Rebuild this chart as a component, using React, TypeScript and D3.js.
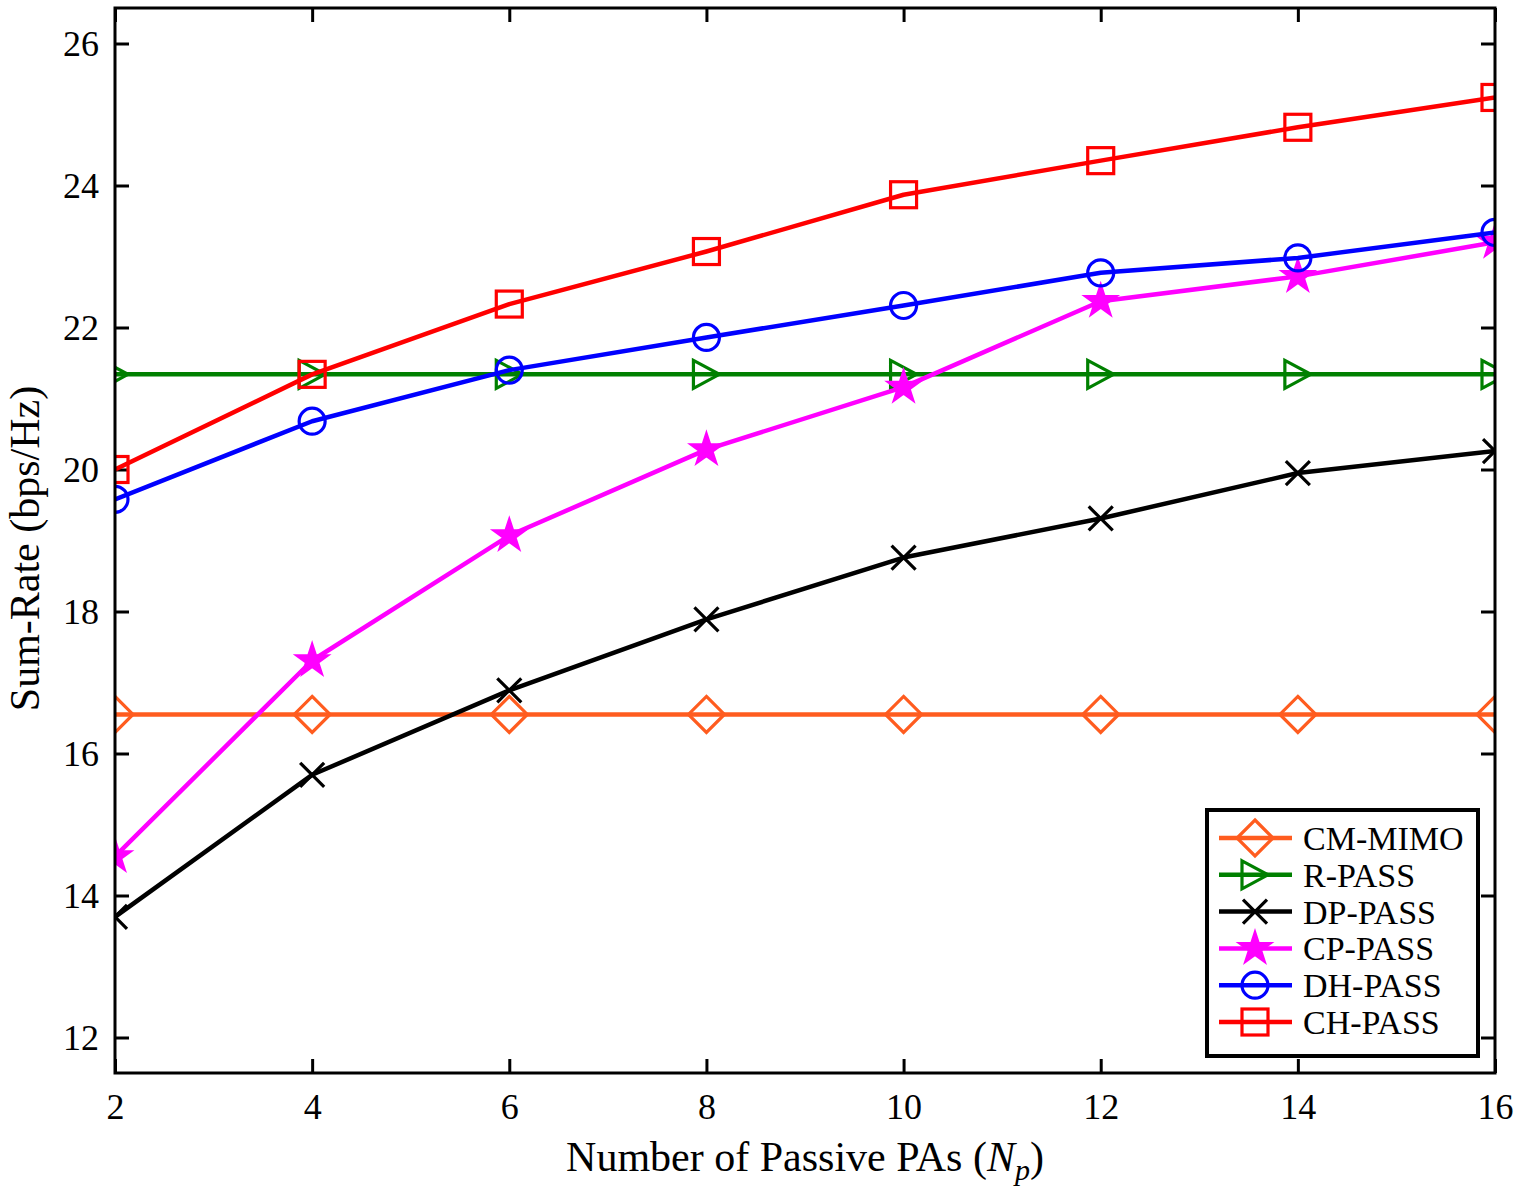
import { useEffect, useRef } from 'react'
import * as d3 from 'd3'

const xValues = [2, 4, 6, 8, 10, 12, 14, 16]
const cmMimo = [16.55, 16.55, 16.55, 16.55, 16.55, 16.55, 16.55, 16.55]
const rPass = [21.34, 21.34, 21.34, 21.34, 21.34, 21.34, 21.34, 21.34]
const dpPass = [13.7, 15.7, 16.89, 17.89, 18.76, 19.31, 19.95, 20.26]
const cpPass = [14.55, 17.31, 19.07, 20.28, 21.16, 22.37, 22.72, 23.2]
const dhPass = [19.58, 20.68, 21.4, 21.86, 22.31, 22.77, 22.98, 23.34]
const chPass = [20.0, 21.34, 22.33, 23.07, 23.87, 24.35, 24.82, 25.24]
const xTicks = [2, 4, 6, 8, 10, 12, 14, 16]
const yTicks = [12, 14, 16, 18, 20, 22, 24, 26]

type Marker = 'diamond' | 'triangle' | 'x' | 'star' | 'circle' | 'square'

const seriesList: { name: string; values: number[]; color: string; marker: Marker }[] = [
  { name: 'CM-MIMO', values: cmMimo, color: '#ff5c1f', marker: 'diamond' },
  { name: 'R-PASS', values: rPass, color: '#008000', marker: 'triangle' },
  { name: 'DP-PASS', values: dpPass, color: '#000000', marker: 'x' },
  { name: 'CP-PASS', values: cpPass, color: '#ff00ff', marker: 'star' },
  { name: 'DH-PASS', values: dhPass, color: '#0000ff', marker: 'circle' },
  { name: 'CH-PASS', values: chPass, color: '#ff0000', marker: 'square' },
]

const W = 1522
const H = 1192
const m = { left: 115, right: 27, top: 8, bottom: 119 }
const FONT = '"Liberation Serif", "Times New Roman", serif'

function drawMarker(g: d3.Selection<SVGGElement, unknown, null, undefined>, kind: Marker, color: string) {
  if (kind === 'diamond') {
    g.append('path').attr('d', 'M0,-18L18,0L0,18L-18,0Z').attr('fill', 'none').attr('stroke', color).attr('stroke-width', 3.2)
  } else if (kind === 'triangle') {
    g.append('path').attr('d', 'M-13,-14L13,0L-13,14Z').attr('fill', 'none').attr('stroke', color).attr('stroke-width', 3.2)
  } else if (kind === 'x') {
    g.append('path').attr('d', 'M-12,-12L12,12M-12,12L12,-12').attr('fill', 'none').attr('stroke', color).attr('stroke-width', 3.2)
  } else if (kind === 'star') {
    g.append('path').attr('d', d3.symbol(d3.symbolStar, 300)() as string)
      .attr('fill', color).attr('stroke', color).attr('stroke-width', 2.5).attr('stroke-linejoin', 'miter')
  } else if (kind === 'circle') {
    g.append('circle').attr('r', 13).attr('fill', 'none').attr('stroke', color).attr('stroke-width', 3.2)
  } else {
    g.append('rect').attr('x', -13).attr('y', -13).attr('width', 26).attr('height', 26)
      .attr('fill', 'none').attr('stroke', color).attr('stroke-width', 3.2)
  }
}

export default function App() {
  const ref = useRef<SVGSVGElement>(null)

  useEffect(() => {
    if (!ref.current) return
    document.body.style.margin = '0'
    const svg = d3.select(ref.current)
    svg.selectAll('*').remove()

    const iw = W - m.left - m.right
    const ih = H - m.top - m.bottom
    const x = d3.scaleLinear().domain([2, 16]).range([0, iw])
    const y = d3.scaleLinear().domain([11.5, 26.5]).range([ih, 0])

    svg.append('rect').attr('width', W).attr('height', H).attr('fill', '#fff')

    const root = svg.append('g').attr('transform', `translate(${m.left},${m.top})`)

    svg.append('defs').append('clipPath').attr('id', 'plot-clip')
      .append('rect').attr('width', iw).attr('height', ih)

    // axes, ticks inward
    const styleAxis = (g: d3.Selection<SVGGElement, unknown, null, undefined>) => {
      g.select('.domain').remove()
      g.selectAll('.tick line').attr('stroke', '#000').attr('stroke-width', 3)
      g.selectAll('.tick text').attr('font-family', FONT).attr('font-size', 36).attr('fill', '#000')
    }
    root.append('g').attr('transform', `translate(0,${ih})`)
      .call(d3.axisBottom(x).tickValues(xTicks).tickSize(-14).tickPadding(20).tickFormat(d3.format('d')))
      .call(styleAxis)
    root.append('g')
      .call(d3.axisTop(x).tickValues(xTicks).tickSize(-14).tickFormat(() => ''))
      .call(styleAxis)
    root.append('g')
      .call(d3.axisLeft(y).tickValues(yTicks).tickSize(-14).tickPadding(16).tickFormat(d3.format('d')))
      .call(styleAxis)
    root.append('g').attr('transform', `translate(${iw},0)`)
      .call(d3.axisRight(y).tickValues(yTicks).tickSize(-14).tickFormat(() => ''))
      .call(styleAxis)

    // series
    const plot = root.append('g').attr('clip-path', 'url(#plot-clip)')
    const line = d3.line<number>().x((_, i) => x(xValues[i])).y(d => y(d))
    seriesList.forEach(s => {
      plot.append('path').attr('d', line(s.values) as string)
        .attr('fill', 'none').attr('stroke', s.color).attr('stroke-width', 4.5).attr('stroke-linejoin', 'round')
      s.values.forEach((v, i) => {
        const g = plot.append('g').attr('transform', `translate(${x(xValues[i])},${y(v)})`)
        drawMarker(g, s.marker, s.color)
      })
    })

    // frame
    root.append('rect').attr('width', iw).attr('height', ih)
      .attr('fill', 'none').attr('stroke', '#000').attr('stroke-width', 3)

    // labels
    const xl = svg.append('text').attr('x', m.left + iw / 2).attr('y', 1171)
      .attr('text-anchor', 'middle').attr('font-family', FONT).attr('font-size', 42).attr('fill', '#000')
    xl.append('tspan').text('Number of Passive PAs (')
    xl.append('tspan').attr('font-style', 'italic').text('N')
    xl.append('tspan').attr('font-style', 'italic').attr('font-size', 30).attr('dy', 9).text('p')
    xl.append('tspan').attr('dy', -9).text(')')

    svg.append('text').attr('transform', `translate(39,${m.top + ih / 2 + 8}) rotate(-90)`)
      .attr('text-anchor', 'middle').attr('font-family', FONT).attr('font-size', 42).attr('fill', '#000')
      .text('Sum-Rate (bps/Hz)')

    // legend
    const lg = svg.append('g').attr('transform', 'translate(1207,810)')
    lg.append('rect').attr('width', 271).attr('height', 246)
      .attr('fill', '#fff').attr('stroke', '#000').attr('stroke-width', 4)
    seriesList.forEach((s, i) => {
      const ry = 28 + i * 36.8
      lg.append('line').attr('x1', 12).attr('x2', 85).attr('y1', ry).attr('y2', ry)
        .attr('stroke', s.color).attr('stroke-width', 4.5)
      const g = lg.append('g').attr('transform', `translate(48,${ry})`)
      drawMarker(g, s.marker, s.color)
      lg.append('text').attr('x', 96).attr('y', ry + 12)
        .attr('font-family', FONT).attr('font-size', 34).attr('fill', '#000').text(s.name)
    })
  }, [])

  return <svg ref={ref} width={W} height={H} style={{ display: 'block' }} />
}
